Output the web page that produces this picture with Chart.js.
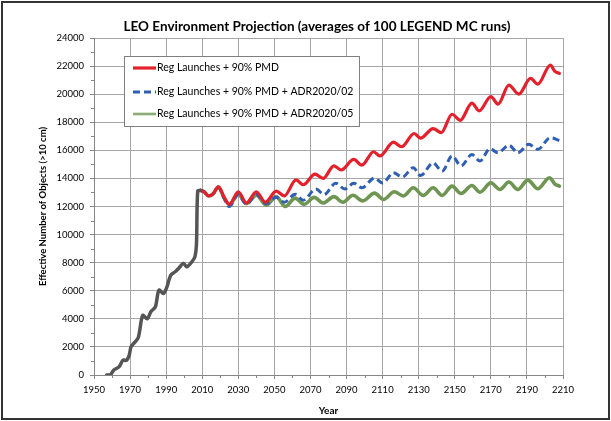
<!DOCTYPE html>
<html>
<head>
<meta charset="utf-8">
<script src="https://cdn.jsdelivr.net/npm/chart.js@4.4.0/dist/chart.umd.min.js"></script>
<style>
  html, body { margin: 0; padding: 0; background: #fff; }
  #wrap { position: relative; width: 611px; height: 421px; }
  #frame { position: absolute; left: 1px; top: 1px; width: 605px; height: 415px; border: 2px solid #333; pointer-events: none; }
</style>
</head>
<body>
<div id="wrap">
  <canvas id="leoChart" width="611" height="421"></canvas>
  <div id="frame"></div>
</div>
<script>
// --- chart data ---
const chartTitle = 'LEO Environment Projection (averages of 100 LEGEND MC runs)';
const xTitle = 'Year';
const yTitle = 'Effective Number of Objects (>10 cm)';

// historical environment
const histYears  = [1957, 1959, 1961, 1964, 1966, 1968, 1969.5, 1970.5, 1972, 1974.5, 1977, 1979.5, 1981.5, 1984, 1986, 1988.5, 1990.5, 1992.5, 1995, 1997, 1999.5, 2001.5, 2004.5, 2006, 2006.8, 2007.5, 2009];
const histValues = [0, 0, 350, 600, 1050, 1050, 1400, 2000, 2250, 2650, 4250, 4000, 4500, 4850, 6050, 5800, 6300, 7100, 7350, 7600, 7950, 7700, 8100, 8450, 9300, 13100, 13150];

// Reg Launches + 90% PMD
const redYears  = [2009, 2011, 2013.5, 2016, 2019, 2022, 2025, 2030, 2034.5, 2040, 2045, 2051, 2055.5, 2062, 2066, 2072.5, 2077, 2083, 2087, 2094, 2098.5, 2105, 2108.5, 2116, 2120.5, 2127.5, 2131, 2138, 2142.5, 2148.5, 2153, 2159.5, 2163.5, 2170, 2174, 2180, 2185.5, 2192, 2196, 2203, 2205.5, 2208];
const redValues = [13150, 13050, 12750, 12900, 13400, 12700, 12150, 13050, 12250, 13050, 12300, 13100, 12750, 13900, 13550, 14300, 14000, 14900, 14600, 15350, 14950, 15900, 15600, 16580, 16260, 17200, 16870, 17550, 17260, 18570, 18140, 19360, 18810, 19830, 19290, 20640, 20000, 21120, 20710, 22070, 21620, 21480];

// Reg Launches + 90% PMD + ADR2020/02
const blueYears  = [2009, 2011, 2013.5, 2016, 2019, 2022, 2025, 2030, 2034.5, 2040, 2045.5, 2051, 2055.5, 2061.5, 2066, 2073, 2077.5, 2084, 2089, 2094, 2098.5, 2105.5, 2110, 2116, 2121, 2127, 2131, 2138, 2143, 2148.5, 2153.5, 2159.5, 2164, 2169.5, 2174, 2180, 2185, 2191, 2196, 2203, 2208];
const blueValues = [13150, 13050, 12750, 12900, 13350, 12600, 12000, 12850, 12150, 12850, 12200, 12650, 12300, 12870, 12450, 13250, 12850, 13650, 13250, 13650, 13330, 14020, 13670, 14400, 14100, 14760, 14200, 15100, 14520, 15600, 14900, 15700, 15240, 16120, 15830, 16360, 15830, 16430, 16070, 16900, 16700];

// Reg Launches + 90% PMD + ADR2020/05
const greenYears  = [2009, 2011, 2013.5, 2016, 2019, 2022, 2025, 2030, 2034.5, 2040, 2045.5, 2051, 2056, 2061.5, 2066.5, 2072, 2077, 2083, 2088, 2093.5, 2099, 2105.5, 2110.5, 2116.5, 2121.5, 2127, 2132.5, 2138, 2143, 2148.5, 2153.5, 2159.5, 2164, 2170, 2175, 2180, 2185, 2190.5, 2196, 2202.5, 2205.5, 2208];
const greenValues = [13150, 13050, 12750, 12900, 13400, 12650, 12150, 12850, 12200, 12800, 12100, 12700, 12000, 12600, 12150, 12650, 12250, 12700, 12300, 12800, 12400, 12950, 12500, 13050, 12750, 13330, 12790, 13330, 12790, 13450, 12930, 13500, 13020, 13690, 13210, 13740, 13210, 13880, 13260, 14050, 13600, 13450];

const seriesLabels = ['Reg Launches + 90% PMD', 'Reg Launches + 90% PMD + ADR2020/02', 'Reg Launches + 90% PMD + ADR2020/05'];

const xMin = 1950, xMax = 2210, xStep = 20;
const yMin = 0, yMax = 24000, yStep = 2000;

const toPoints = (xs, ys) => xs.map((x, i) => ({ x: x, y: ys[i] }));

const FONT = 'Lato, "Open Sans", sans-serif';

// title above the plot
const titlePlugin = {
    id: 'chartTitle',
    afterDraw(chart) {
        const ctx = chart.ctx;
        ctx.save();
        ctx.font = 'bold 13.5px ' + FONT;
        ctx.fillStyle = '#000';
        ctx.textAlign = 'center';
        ctx.textBaseline = 'middle';
        ctx.fillText(chartTitle, 317, 27);
        ctx.restore();
    }
};

// small minor tick marks on both axes
const minorTicks = {
    id: 'minorTicks',
    afterDraw(chart) {
        const ctx = chart.ctx;
        const xs = chart.scales.x, ys = chart.scales.y;
        ctx.save();
        ctx.strokeStyle = '#868686';
        ctx.lineWidth = 1;
        ctx.beginPath();
        for (let v = yMin + yStep / 2; v < yMax; v += yStep) {
            const py = Math.round(ys.getPixelForValue(v)) + 0.5;
            ctx.moveTo(xs.left - 3, py);
            ctx.lineTo(xs.left, py);
        }
        for (let v = xMin + xStep / 2; v < xMax; v += xStep) {
            const px = Math.round(xs.getPixelForValue(v)) + 0.5;
            ctx.moveTo(px, ys.bottom);
            ctx.lineTo(px, ys.bottom + 3);
        }
        ctx.stroke();
        ctx.restore();
    }
};

// boxed legend inside the plot area
const boxLegend = {
    id: 'boxLegend',
    afterDatasetsDraw(chart) {
        const ctx = chart.ctx;
        const box = { x: 124.5, y: 56.5, w: 235, h: 70 };
        ctx.save();
        ctx.fillStyle = '#fff';
        ctx.fillRect(box.x, box.y, box.w, box.h);
        ctx.strokeStyle = '#7f7f7f';
        ctx.lineWidth = 1;
        ctx.strokeRect(box.x, box.y, box.w, box.h);
        ctx.font = '10.5px ' + FONT;
        ctx.fillStyle = '#000';
        ctx.textBaseline = 'middle';
        const rows = [68, 92, 114];
        let row = 0;
        chart.data.datasets.forEach(ds => {
            if (!ds.legendShow) return;
            const y = rows[row++];
            ctx.save();
            ctx.lineCap = 'butt';
            ctx.strokeStyle = ds.borderColor;
            ctx.lineWidth = ds.innerColor ? 2.5 : ds.borderWidth;
            ctx.setLineDash(ds.borderDash || []);
            ctx.beginPath();
            ctx.moveTo(133, y);
            ctx.lineTo(156, y);
            ctx.stroke();
            if (ds.innerColor) {
                ctx.strokeStyle = '#a9c494';
                ctx.lineWidth = 1;
                ctx.beginPath();
                ctx.moveTo(133, y);
                ctx.lineTo(156, y);
                ctx.stroke();
            }
            ctx.restore();
            ctx.fillText(ds.label, 157, y);
        });
        ctx.restore();
    }
};

const lineBase = { pointRadius: 0, pointHoverRadius: 0, fill: false, cubicInterpolationMode: 'monotone', borderJoinStyle: 'round' };

const datasets = [
    Object.assign({}, lineBase, {
        label: 'History',
        data: toPoints(histYears, histValues),
        borderColor: '#555555',
        borderWidth: 3.5,
        borderCapStyle: 'round',
        cubicInterpolationMode: 'default',
        tension: 0.3
    }),
    Object.assign({}, lineBase, {
        label: seriesLabels[0],
        legendShow: true,
        data: toPoints(redYears, redValues),
        borderColor: '#e3202b',
        borderWidth: 3.2,
        borderCapStyle: 'round'
    }),
    Object.assign({}, lineBase, {
        label: seriesLabels[1],
        legendShow: true,
        data: toPoints(blueYears, blueValues),
        borderColor: '#2f5fb3',
        borderWidth: 3,
        borderDash: [7, 4],
        borderCapStyle: 'butt'
    }),
    Object.assign({}, lineBase, {
        label: seriesLabels[2],
        legendShow: true,
        innerColor: '#dbe8cf',
        data: toPoints(greenYears, greenValues),
        borderColor: '#6f9553',
        borderWidth: 3.6,
        borderCapStyle: 'round'
    }),
    // light core of the double green line
    Object.assign({}, lineBase, {
        label: 'green core',
        data: toPoints(greenYears, greenValues),
        borderColor: '#dbe8cf',
        borderWidth: 1.6
    })
];

const ctx = document.getElementById('leoChart').getContext('2d');
new Chart(ctx, {
    type: 'line',
    data: { datasets: datasets },
    options: {
        responsive: false,
        animation: false,
        layout: { padding: { left: 0, right: 48, top: 38, bottom: 0 } },
        plugins: {
            legend: { display: false },
            tooltip: { enabled: false },
            title: { display: false }
        },
        scales: {
            x: {
                type: 'linear',
                min: xMin, max: xMax,
                ticks: {
                    stepSize: xStep,
                    color: '#000',
                    font: { family: FONT, size: 9.5 },
                    padding: 5,
                    maxRotation: 0,
                    callback: v => String(v)
                },
                grid: { color: '#a6a6a6', tickLength: 4, tickColor: '#868686' },
                border: { color: '#868686' },
                title: {
                    display: true, text: xTitle, color: '#000',
                    font: { family: FONT, size: 10, weight: 'bold' },
                    padding: { top: 0, bottom: 4 }
                },
                afterFit: s => { s.height = 46; }
            },
            y: {
                min: yMin, max: yMax,
                ticks: {
                    stepSize: yStep,
                    color: '#000',
                    font: { family: FONT, size: 9.5 },
                    padding: 6,
                    callback: v => String(v)
                },
                grid: { color: '#a6a6a6', tickLength: 4, tickColor: '#868686' },
                border: { color: '#868686' },
                title: {
                    display: true, text: yTitle, color: '#000',
                    font: { family: FONT, size: 9.5, weight: 'bold' },
                    padding: { top: 37, bottom: 0 }
                },
                afterFit: s => { s.width = 94; }
            }
        }
    },
    plugins: [titlePlugin, minorTicks, boxLegend]
});
</script>
</body>
</html>
